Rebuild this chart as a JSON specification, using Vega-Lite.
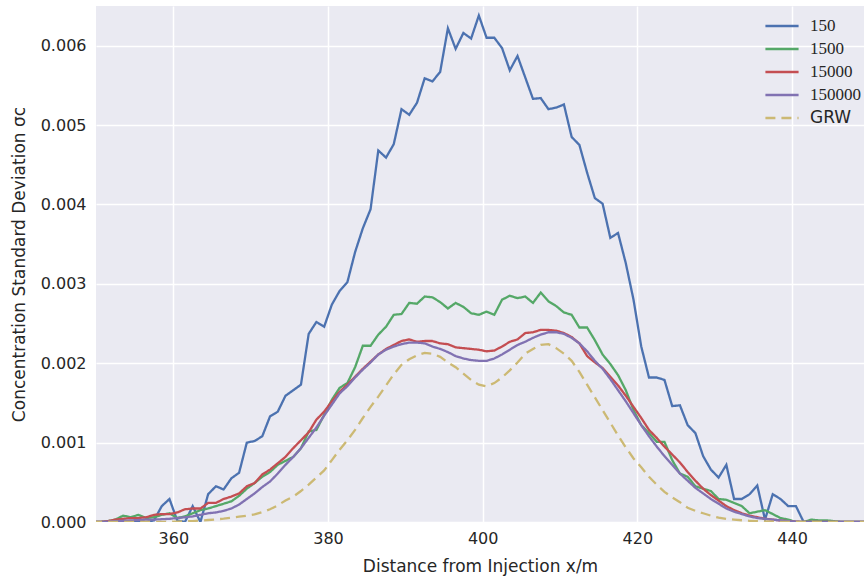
{
  "$schema": "https://vega.github.io/schema/vega-lite/v6.json",
  "width": 768,
  "height": 516,
  "autosize": {"type": "none"},
  "padding": {"left": 96, "top": 6, "right": 0, "bottom": 56},
  "background": "white",
  "data": {"values": [
    {"x": 349.5, "150": 0, "1500": 0, "15000": 0, "150000": 0, "GRW": 0},
    {"x": 350.5, "150": 0, "1500": 0, "15000": 0, "150000": 0, "GRW": 0},
    {"x": 351.5, "150": 0, "1500": 0.00001, "15000": 0.00001, "150000": 0.000005, "GRW": 0},
    {"x": 352.5, "150": 0.00001, "1500": 0.00003, "15000": 0.00003, "150000": 0.00001, "GRW": 0},
    {"x": 353.5, "150": 0.00002, "1500": 0.00008, "15000": 0.00004, "150000": 0.000015, "GRW": 0},
    {"x": 354.5, "150": 0, "1500": 0.00006, "15000": 0.00005, "150000": 0.00002, "GRW": 0},
    {"x": 355.5, "150": 0, "1500": 0.00009, "15000": 0.00005, "150000": 0.000025, "GRW": 0},
    {"x": 356.5, "150": 0, "1500": 0.00005, "15000": 0.00006, "150000": 0.00003, "GRW": 0},
    {"x": 357.5, "150": 0.00002, "1500": 0.00006, "15000": 0.00009, "150000": 0.00003, "GRW": 0},
    {"x": 358.5, "150": 0.0002, "1500": 0.00009, "15000": 0.0001, "150000": 0.000035, "GRW": 0},
    {"x": 359.5, "150": 0.00029, "1500": 0.00011, "15000": 0.0001, "150000": 0.00004, "GRW": 0.000002},
    {"x": 360.5, "150": 0.00002, "1500": 0.00005, "15000": 0.00012, "150000": 0.00005, "GRW": 0.000005},
    {"x": 361.5, "150": 0, "1500": 0.00007, "15000": 0.00016, "150000": 0.00006, "GRW": 0.000008},
    {"x": 362.5, "150": 0.0002, "1500": 0.00011, "15000": 0.00017, "150000": 0.00007, "GRW": 0.000012},
    {"x": 363.5, "150": 0, "1500": 0.00015, "15000": 0.00017, "150000": 0.00009, "GRW": 0.000018},
    {"x": 364.5, "150": 0.00035, "1500": 0.00017, "15000": 0.00024, "150000": 0.00011, "GRW": 0.000025},
    {"x": 365.5, "150": 0.00045, "1500": 0.0002, "15000": 0.00024, "150000": 0.00012, "GRW": 0.000033},
    {"x": 366.5, "150": 0.00041, "1500": 0.00023, "15000": 0.00029, "150000": 0.00014, "GRW": 0.000042},
    {"x": 367.5, "150": 0.00055, "1500": 0.00026, "15000": 0.00032, "150000": 0.00017, "GRW": 0.000055},
    {"x": 368.5, "150": 0.00062, "1500": 0.00033, "15000": 0.00036, "150000": 0.00022, "GRW": 0.000068},
    {"x": 369.5, "150": 0.001, "1500": 0.00042, "15000": 0.00045, "150000": 0.00029, "GRW": 0.00008},
    {"x": 370.5, "150": 0.00102, "1500": 0.00049, "15000": 0.00049, "150000": 0.00036, "GRW": 0.000095},
    {"x": 371.5, "150": 0.00108, "1500": 0.00057, "15000": 0.0006, "150000": 0.00044, "GRW": 0.000125},
    {"x": 372.5, "150": 0.00133, "1500": 0.00063, "15000": 0.00066, "150000": 0.00051, "GRW": 0.00016},
    {"x": 373.5, "150": 0.00139, "1500": 0.00072, "15000": 0.00074, "150000": 0.00061, "GRW": 0.00021},
    {"x": 374.5, "150": 0.00159, "1500": 0.00077, "15000": 0.00082, "150000": 0.00072, "GRW": 0.00027},
    {"x": 375.5, "150": 0.00166, "1500": 0.00082, "15000": 0.00093, "150000": 0.00082, "GRW": 0.00032},
    {"x": 376.5, "150": 0.00173, "1500": 0.00093, "15000": 0.00103, "150000": 0.00093, "GRW": 0.00039},
    {"x": 377.5, "150": 0.00237, "1500": 0.00114, "15000": 0.00113, "150000": 0.00106, "GRW": 0.00047},
    {"x": 378.5, "150": 0.00252, "1500": 0.00116, "15000": 0.00129, "150000": 0.00119, "GRW": 0.00056},
    {"x": 379.5, "150": 0.00246, "1500": 0.00135, "15000": 0.00139, "150000": 0.00134, "GRW": 0.00065},
    {"x": 380.5, "150": 0.00274, "1500": 0.00154, "15000": 0.00152, "150000": 0.00148, "GRW": 0.00078},
    {"x": 381.5, "150": 0.00291, "1500": 0.00169, "15000": 0.00164, "150000": 0.00162, "GRW": 0.00091},
    {"x": 382.5, "150": 0.00302, "1500": 0.00175, "15000": 0.00173, "150000": 0.00171, "GRW": 0.00103},
    {"x": 383.5, "150": 0.0034, "1500": 0.00195, "15000": 0.00183, "150000": 0.00182, "GRW": 0.00116},
    {"x": 384.5, "150": 0.0037, "1500": 0.00222, "15000": 0.00193, "150000": 0.00192, "GRW": 0.00131},
    {"x": 385.5, "150": 0.00394, "1500": 0.00222, "15000": 0.00202, "150000": 0.00201, "GRW": 0.00145},
    {"x": 386.5, "150": 0.00468, "1500": 0.00236, "15000": 0.00211, "150000": 0.00211, "GRW": 0.00158},
    {"x": 387.5, "150": 0.00459, "1500": 0.00246, "15000": 0.00218, "150000": 0.00217, "GRW": 0.00172},
    {"x": 388.5, "150": 0.00476, "1500": 0.00261, "15000": 0.00223, "150000": 0.00221, "GRW": 0.00186},
    {"x": 389.5, "150": 0.0052, "1500": 0.00262, "15000": 0.00228, "150000": 0.00224, "GRW": 0.00198},
    {"x": 390.5, "150": 0.00513, "1500": 0.00276, "15000": 0.0023, "150000": 0.00226, "GRW": 0.00205},
    {"x": 391.5, "150": 0.00528, "1500": 0.00275, "15000": 0.00227, "150000": 0.00226, "GRW": 0.0021},
    {"x": 392.5, "150": 0.00559, "1500": 0.00284, "15000": 0.00228, "150000": 0.00225, "GRW": 0.00213},
    {"x": 393.5, "150": 0.00555, "1500": 0.00283, "15000": 0.00228, "150000": 0.00221, "GRW": 0.00212},
    {"x": 394.5, "150": 0.00567, "1500": 0.00277, "15000": 0.00225, "150000": 0.00218, "GRW": 0.00208},
    {"x": 395.5, "150": 0.00622, "1500": 0.00269, "15000": 0.00224, "150000": 0.00214, "GRW": 0.00201},
    {"x": 396.5, "150": 0.00596, "1500": 0.00276, "15000": 0.0022, "150000": 0.00209, "GRW": 0.00195},
    {"x": 397.5, "150": 0.00616, "1500": 0.00271, "15000": 0.00219, "150000": 0.00206, "GRW": 0.00187},
    {"x": 398.5, "150": 0.00609, "1500": 0.00263, "15000": 0.00218, "150000": 0.00204, "GRW": 0.00179},
    {"x": 399.5, "150": 0.00638, "1500": 0.00261, "15000": 0.00217, "150000": 0.00203, "GRW": 0.00173},
    {"x": 400.5, "150": 0.0061, "1500": 0.00265, "15000": 0.00215, "150000": 0.00203, "GRW": 0.00171},
    {"x": 401.5, "150": 0.0061, "1500": 0.00261, "15000": 0.00216, "150000": 0.00206, "GRW": 0.00175},
    {"x": 402.5, "150": 0.00597, "1500": 0.0028, "15000": 0.00221, "150000": 0.00211, "GRW": 0.00182},
    {"x": 403.5, "150": 0.00569, "1500": 0.00285, "15000": 0.00227, "150000": 0.00217, "GRW": 0.00191},
    {"x": 404.5, "150": 0.00587, "1500": 0.00282, "15000": 0.0023, "150000": 0.00223, "GRW": 0.00201},
    {"x": 405.5, "150": 0.0056, "1500": 0.00284, "15000": 0.00238, "150000": 0.00227, "GRW": 0.00212},
    {"x": 406.5, "150": 0.00533, "1500": 0.00276, "15000": 0.00239, "150000": 0.00232, "GRW": 0.00218},
    {"x": 407.5, "150": 0.00534, "1500": 0.00289, "15000": 0.00242, "150000": 0.00236, "GRW": 0.00223},
    {"x": 408.5, "150": 0.0052, "1500": 0.00278, "15000": 0.00242, "150000": 0.00239, "GRW": 0.00224},
    {"x": 409.5, "150": 0.00522, "1500": 0.00272, "15000": 0.00241, "150000": 0.00239, "GRW": 0.00219},
    {"x": 410.5, "150": 0.00526, "1500": 0.00264, "15000": 0.00238, "150000": 0.00237, "GRW": 0.00212},
    {"x": 411.5, "150": 0.00485, "1500": 0.00261, "15000": 0.00233, "150000": 0.00232, "GRW": 0.00203},
    {"x": 412.5, "150": 0.00475, "1500": 0.00245, "15000": 0.00225, "150000": 0.00225, "GRW": 0.00189},
    {"x": 413.5, "150": 0.0044, "1500": 0.00245, "15000": 0.00209, "150000": 0.00215, "GRW": 0.00173},
    {"x": 414.5, "150": 0.00408, "1500": 0.00229, "15000": 0.00201, "150000": 0.00203, "GRW": 0.00157},
    {"x": 415.5, "150": 0.00401, "1500": 0.00211, "15000": 0.00194, "150000": 0.00193, "GRW": 0.00141},
    {"x": 416.5, "150": 0.00358, "1500": 0.00199, "15000": 0.00183, "150000": 0.0018, "GRW": 0.00125},
    {"x": 417.5, "150": 0.00364, "1500": 0.00185, "15000": 0.00172, "150000": 0.00166, "GRW": 0.00109},
    {"x": 418.5, "150": 0.00326, "1500": 0.00166, "15000": 0.00159, "150000": 0.00152, "GRW": 0.00094},
    {"x": 419.5, "150": 0.0028, "1500": 0.00141, "15000": 0.00145, "150000": 0.00137, "GRW": 0.0008},
    {"x": 420.5, "150": 0.00221, "1500": 0.00122, "15000": 0.00131, "150000": 0.00122, "GRW": 0.00069},
    {"x": 421.5, "150": 0.00182, "1500": 0.00112, "15000": 0.00116, "150000": 0.00108, "GRW": 0.00057},
    {"x": 422.5, "150": 0.00182, "1500": 0.00101, "15000": 0.00106, "150000": 0.00095, "GRW": 0.00047},
    {"x": 423.5, "150": 0.00179, "1500": 0.00101, "15000": 0.00095, "150000": 0.00083, "GRW": 0.00038},
    {"x": 424.5, "150": 0.00146, "1500": 0.00078, "15000": 0.00085, "150000": 0.00072, "GRW": 0.00031},
    {"x": 425.5, "150": 0.00147, "1500": 0.00061, "15000": 0.00075, "150000": 0.00061, "GRW": 0.00025},
    {"x": 426.5, "150": 0.00122, "1500": 0.00057, "15000": 0.00063, "150000": 0.00052, "GRW": 0.00018},
    {"x": 427.5, "150": 0.00112, "1500": 0.00045, "15000": 0.00052, "150000": 0.00043, "GRW": 0.00014},
    {"x": 428.5, "150": 0.00083, "1500": 0.00042, "15000": 0.00042, "150000": 0.00036, "GRW": 0.00011},
    {"x": 429.5, "150": 0.00066, "1500": 0.00039, "15000": 0.00034, "150000": 0.00029, "GRW": 0.00008},
    {"x": 430.5, "150": 0.00056, "1500": 0.00029, "15000": 0.00027, "150000": 0.00023, "GRW": 0.000055},
    {"x": 431.5, "150": 0.00072, "1500": 0.00028, "15000": 0.0002, "150000": 0.00017, "GRW": 0.00004},
    {"x": 432.5, "150": 0.00029, "1500": 0.00024, "15000": 0.00015, "150000": 0.00013, "GRW": 0.00003},
    {"x": 433.5, "150": 0.00029, "1500": 0.0002, "15000": 0.00011, "150000": 0.0001, "GRW": 0.000022},
    {"x": 434.5, "150": 0.00035, "1500": 0.00011, "15000": 0.00008, "150000": 0.00007, "GRW": 0.000015},
    {"x": 435.5, "150": 0.00046, "1500": 0.00013, "15000": 0.00006, "150000": 0.00005, "GRW": 0.00001},
    {"x": 436.5, "150": 0.00003, "1500": 0.00015, "15000": 0.00004, "150000": 0.00004, "GRW": 0.000007},
    {"x": 437.5, "150": 0.00035, "1500": 0.0001, "15000": 0.00003, "150000": 0.00003, "GRW": 0.000004},
    {"x": 438.5, "150": 0.00029, "1500": 0.00005, "15000": 0.00002, "150000": 0.00002, "GRW": 0.000002},
    {"x": 439.5, "150": 0.0002, "1500": 0.00003, "15000": 0.00001, "150000": 0.00001, "GRW": 0.000001},
    {"x": 440.5, "150": 0.0002, "1500": 0, "15000": 0.000005, "150000": 0.000005, "GRW": 0},
    {"x": 441.5, "150": 0, "1500": 0, "15000": 0, "150000": 0, "GRW": 0},
    {"x": 442.5, "150": 0, "1500": 0.00003, "15000": 0, "150000": 0, "GRW": 0},
    {"x": 443.5, "150": 0, "1500": 0.00002, "15000": 0, "150000": 0, "GRW": 0},
    {"x": 444.5, "150": 0, "1500": 0.00002, "15000": 0, "150000": 0, "GRW": 0},
    {"x": 445.5, "150": 0, "1500": 0.00001, "15000": 0, "150000": 0, "GRW": 0},
    {"x": 446.5, "150": 0, "1500": 0, "15000": 0, "150000": 0, "GRW": 0},
    {"x": 447.5, "150": 0, "1500": 0, "15000": 0, "150000": 0, "GRW": 0},
    {"x": 448.5, "150": 0, "1500": 0, "15000": 0, "150000": 0, "GRW": 0},
    {"x": 449.5, "150": 0, "1500": 0, "15000": 0, "150000": 0, "GRW": 0}
  ]},
  "transform": [
    {"fold": ["150", "1500", "15000", "150000", "GRW"], "as": ["series", "value"]}
  ],
  "mark": {"type": "line", "strokeWidth": 2.3, "clip": true},
  "encoding": {
    "x": {
      "field": "x", "type": "quantitative",
      "scale": {"domain": [350, 449.3], "nice": false, "zero": false},
      "axis": {"values": [360, 380, 400, 420, 440], "title": "Distance from Injection x/m", "labelPadding": 8, "titlePadding": 12}
    },
    "y": {
      "field": "value", "type": "quantitative",
      "scale": {"domain": [0, 0.0065], "nice": false},
      "axis": {"values": [0, 0.001, 0.002, 0.003, 0.004, 0.005, 0.006], "format": ".3f", "title": "Concentration Standard Deviation σc", "labelPadding": 10, "titlePadding": 12}
    },
    "color": {
      "field": "series", "type": "nominal",
      "scale": {"domain": ["150", "1500", "15000", "150000", "GRW"], "range": ["#4C72B0", "#55A868", "#C44E52", "#8172B2", "#CCB974"]},
      "legend": {"title": null}
    },
    "strokeDash": {
      "field": "series", "type": "nominal",
      "scale": {"domain": ["150", "1500", "15000", "150000", "GRW"], "range": [[1, 0], [1, 0], [1, 0], [1, 0], [10, 6]]},
      "legend": {"title": null}
    }
  },
  "config": {
    "view": {"fill": "#EAEAF2", "stroke": null},
    "axis": {
      "domain": false, "ticks": false, "gridColor": "white", "gridWidth": 1.5,
      "labelFont": "DejaVu Sans", "labelFontSize": 16, "labelColor": "#262626",
      "titleFont": "DejaVu Sans", "titleFontSize": 17, "titleFontWeight": "normal", "titleColor": "#262626"
    },
    "legend": {
      "orient": "none", "legendX": 668, "legendY": 10, "padding": 0,
      "symbolType": "stroke", "symbolSize": 1100, "symbolStrokeWidth": 2.3, "clipHeight": 20, "rowPadding": 3,
      "labelFont": {"expr": "datum.label === 'GRW' ? 'DejaVu Sans' : 'Liberation Serif'"},
      "labelFontSize": 17, "labelColor": "#262626", "labelOffset": 10
    }
  }
}
